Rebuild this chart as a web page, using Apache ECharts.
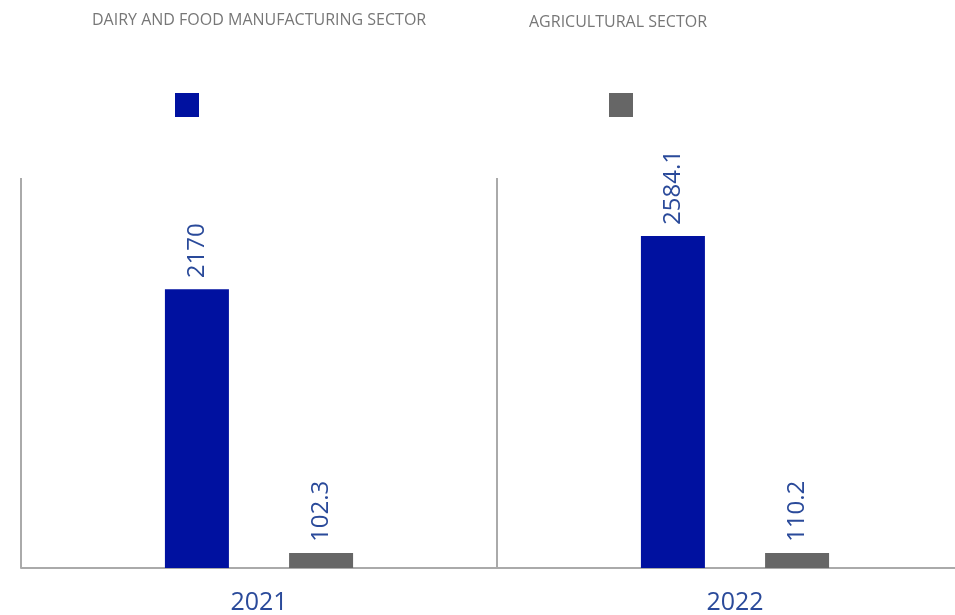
<!DOCTYPE html>
<html>
<head>
<meta charset="utf-8">
<script src="https://cdn.jsdelivr.net/npm/echarts@6/dist/echarts.min.js"></script>
<style>
html,body{margin:0;padding:0;background:#fff;overflow:hidden;}
#chart{width:973px;height:615px;}
</style>
</head>
<body>
<div id="chart"></div>
<script>
const categories = ['2021', '2022'];
const seriesNames = ['DAIRY AND FOOD MANUFACTURING SECTOR', 'AGRICULTURAL SECTOR'];
const dairyValues = [2170, 2584.1];
const agriValues = [102.3, 110.2];

const chart = echarts.init(document.getElementById('chart'));
const labelColor = '#2a4a9a';
const valueLabel = {
  show: true,
  position: 'top',
  rotate: 90,
  align: 'left',
  verticalAlign: 'middle',
  distance: 11,
  color: labelColor,
  fontSize: 24,
  fontFamily: 'Open Sans'
};
const titleStyle = { fontSize: 16, fontWeight: 'normal', color: '#777', fontFamily: 'Open Sans' };
chart.setOption({
  animation: false,
  title: [
    { text: seriesNames[0], left: 87, top: 7, textStyle: titleStyle },
    { text: seriesNames[1], left: 524, top: 9, textStyle: titleStyle }
  ],
  legend: [
    { data: [seriesNames[0]], left: 170, top: 88, itemWidth: 24, itemHeight: 24, icon: 'rect', formatter: () => '', selectedMode: false },
    { data: [seriesNames[1]], left: 604, top: 88, itemWidth: 24, itemHeight: 24, icon: 'rect', formatter: () => '', selectedMode: false }
  ],
  grid: { left: 21, right: 0, top: 178, bottom: 47, containLabel: false },
  xAxis: {
    type: 'category',
    data: categories,
    axisLine: { show: true, lineStyle: { color: '#aaa', width: 2 } },
    axisTick: { show: false },
    splitLine: { show: true, lineStyle: { color: '#aaa', width: 2 } },
    axisLabel: { color: labelColor, fontSize: 25, fontFamily: 'Open Sans', margin: 22 }
  },
  yAxis: {
    type: 'value',
    min: 0,
    max: 3035,
    show: false,
    splitLine: { show: false }
  },
  series: [
    { name: seriesNames[0], type: 'bar', data: dairyValues, barWidth: 64, barGap: '94%', barMinHeight: 15, itemStyle: { color: '#0011a0' }, label: valueLabel },
    { name: seriesNames[1], type: 'bar', data: agriValues, barWidth: 64, barMinHeight: 15, itemStyle: { color: '#666666' }, label: valueLabel }
  ]
});
</script>
</body>
</html>
